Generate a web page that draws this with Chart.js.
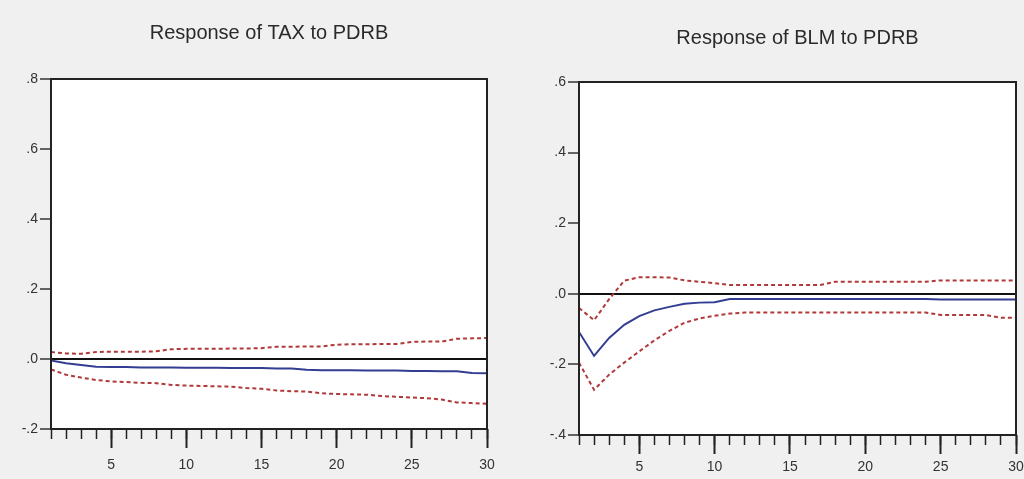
<!DOCTYPE html>
<html><head><meta charset="utf-8">
<script src="https://cdn.jsdelivr.net/npm/chart.js@4.4.1/dist/chart.umd.min.js"></script>
<style>
html,body{margin:0;padding:0;background:#f0f0f0;width:1024px;height:479px;overflow:hidden;}
canvas{position:absolute;top:0;}
#c1{left:0}
#c2{left:512px}
</style></head><body>
<canvas id="c1" width="512" height="479"></canvas>
<canvas id="c2" width="512" height="479"></canvas>
<script>
const periods = [1,2,3,4,5,6,7,8,9,10,11,12,13,14,15,16,17,18,19,20,21,22,23,24,25,26,27,28,29,30];
const xMajorTicks = [5,10,15,20,25,30];

const taxTitle = 'Response of TAX to PDRB';
const taxResponse = [-0.004,-0.012,-0.017,-0.022,-0.023,-0.023,-0.024,-0.024,-0.024,-0.025,-0.025,-0.025,-0.026,-0.026,-0.026,-0.027,-0.027,-0.031,-0.032,-0.032,-0.032,-0.033,-0.033,-0.033,-0.034,-0.034,-0.035,-0.035,-0.040,-0.041];
const taxUpper = [0.020,0.016,0.015,0.020,0.021,0.021,0.021,0.022,0.028,0.029,0.029,0.029,0.030,0.030,0.031,0.035,0.035,0.036,0.036,0.041,0.042,0.042,0.043,0.043,0.049,0.050,0.050,0.058,0.059,0.060];
const taxLower = [-0.030,-0.045,-0.053,-0.060,-0.064,-0.066,-0.068,-0.069,-0.074,-0.076,-0.077,-0.078,-0.079,-0.083,-0.085,-0.090,-0.092,-0.093,-0.098,-0.100,-0.101,-0.102,-0.106,-0.108,-0.110,-0.112,-0.116,-0.124,-0.126,-0.128];
const taxYTicks = [-0.2,0,0.2,0.4,0.6,0.8];
const taxYLabels = ['-.2','.0','.2','.4','.6','.8'];

const blmTitle = 'Response of BLM to PDRB';
const blmResponse = [-0.108,-0.176,-0.125,-0.088,-0.063,-0.047,-0.037,-0.028,-0.025,-0.024,-0.015,-0.015,-0.015,-0.015,-0.015,-0.015,-0.015,-0.015,-0.015,-0.015,-0.015,-0.015,-0.015,-0.015,-0.016,-0.016,-0.016,-0.016,-0.016,-0.016];
const blmUpper = [-0.040,-0.075,-0.015,0.037,0.047,0.047,0.046,0.038,0.034,0.030,0.025,0.025,0.025,0.025,0.025,0.025,0.025,0.034,0.034,0.034,0.034,0.034,0.034,0.034,0.038,0.038,0.038,0.038,0.038,0.038];
const blmLower = [-0.195,-0.272,-0.229,-0.195,-0.163,-0.132,-0.105,-0.082,-0.070,-0.062,-0.056,-0.053,-0.053,-0.053,-0.053,-0.053,-0.053,-0.053,-0.053,-0.053,-0.053,-0.053,-0.053,-0.053,-0.060,-0.060,-0.060,-0.060,-0.068,-0.068];
const blmYTicks = [-0.4,-0.2,0,0.2,0.4,0.6];
const blmYLabels = ['-.4','-.2','.0','.2','.4','.6'];

const FONT = "'Liberation Sans', Arial, sans-serif";

const frame = {
  id: 'frame',
  beforeDraw(chart) {
    const a = chart.chartArea, c = chart.ctx;
    c.save(); c.fillStyle = '#ffffff'; c.fillRect(a.left, a.top, a.right - a.left, a.bottom - a.top); c.restore();
  },
  afterDraw(chart) {
    const a = chart.chartArea, c = chart.ctx;
    c.save(); c.strokeStyle = '#222'; c.lineWidth = 2;
    c.strokeRect(a.left, a.top, a.right - a.left, a.bottom - a.top); c.restore();
  }
};

function toXY(vals) { return vals.map((v, i) => ({x: periods[i], y: v})); }

function makeChart(id, title, resp, upper, lower, yTicks, yLabels, g) {
  const yMin = yTicks[0], yMax = yTicks[yTicks.length - 1];
  const band = {borderColor: '#b0393a', borderWidth: 2, borderDash: [4, 3], pointRadius: 0, fill: false, tension: 0};
  return new Chart(document.getElementById(id), {
    type: 'line',
    data: {
      datasets: [
        Object.assign({label: 'upper', data: toXY(upper)}, band),
        Object.assign({label: 'lower', data: toXY(lower)}, band),
        {label: 'response', data: toXY(resp), borderColor: '#333d92', borderWidth: 2, pointRadius: 0, fill: false, tension: 0}
      ]
    },
    options: {
      responsive: false, animation: false, devicePixelRatio: 1,
      layout: {padding: {left: 0, right: g.padRight, top: 0, bottom: 0}},
      plugins: {
        legend: {display: false}, tooltip: {enabled: false},
        title: {display: true, text: title, fullSize: false, color: '#2a2a2a',
          font: {family: FONT, size: 20, weight: 'normal'},
          padding: {top: g.titleTop, bottom: g.titleBottom}}
      },
      scales: {
        x: {
          type: 'linear', min: 1, max: 30,
          afterBuildTicks: s => { s.ticks = xMajorTicks.map(v => ({value: v})); },
          afterFit: s => { s.height = g.xAxisHeight; s.paddingLeft = 0; s.paddingRight = 0; },
          ticks: {callback: v => String(v), autoSkip: false, maxRotation: 0, color: '#333',
            font: {family: FONT, size: 14}, padding: g.labelPad},
          grid: {drawOnChartArea: false, tickLength: 19, tickColor: '#222', tickWidth: 2},
          border: {display: false}
        },
        xm: {
          type: 'linear', axis: 'x', position: {y: yMin}, min: 1, max: 30,
          afterBuildTicks: s => { s.ticks = periods.map(v => ({value: v})); },
          afterFit: s => { s.paddingLeft = 0; s.paddingRight = 0; },
          ticks: {display: false},
          grid: {drawOnChartArea: false, tickLength: 10, tickColor: '#222', tickWidth: 1.5},
          border: {display: false}
        },
        y: {
          min: yMin, max: yMax,
          afterBuildTicks: s => { s.ticks = yTicks.map(v => ({value: v})); },
          afterFit: s => { s.width = g.yAxisWidth; },
          ticks: {callback: (v, i) => yLabels[i], color: '#333', font: {family: FONT, size: 14}, padding: 2},
          grid: {drawOnChartArea: true,
            color: ctx => (ctx.tick && Math.abs(ctx.tick.value) < 1e-9) ? '#111' : 'rgba(0,0,0,0)',
            lineWidth: 2, tickLength: 11, tickColor: '#333', tickWidth: 1.5},
          border: {display: false}
        }
      }
    },
    plugins: [frame]
  });
}

makeChart('c1', taxTitle, taxResponse, taxUpper, taxLower, taxYTicks, taxYLabels,
  {padRight: 25, titleTop: 21, titleBottom: 34, xAxisHeight: 50, yAxisWidth: 51, labelPad: 9});
makeChart('c2', blmTitle, blmResponse, blmUpper, blmLower, blmYTicks, blmYLabels,
  {padRight: 8, titleTop: 26.5, titleBottom: 31.5, xAxisHeight: 44, yAxisWidth: 67, labelPad: 5});
</script>
</body></html>
